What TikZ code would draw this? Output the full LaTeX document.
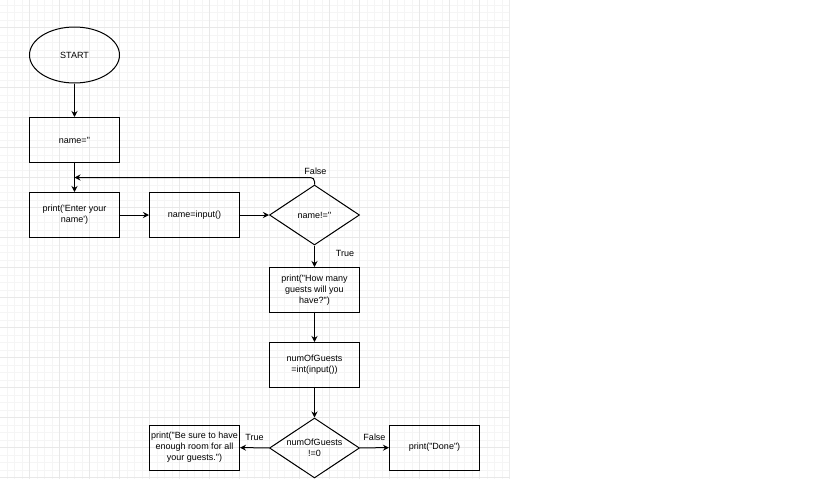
\documentclass[tikz,border=0pt]{standalone}
\usepackage{fontspec}
\setmainfont{Liberation Sans}[Ligatures=TeXOff]
\usetikzlibrary{shapes.geometric,arrows.meta}

\begin{document}
\begin{tikzpicture}[x=0.75pt,y=-0.75pt,
		every node/.style={font=\fontsize{6.75pt}{8.25pt}\selectfont},
		box/.style={draw,rectangle,minimum width=67.5pt,minimum height=33.75pt,align=center,inner sep=1pt,line width=0.75pt},
		dec/.style={draw,diamond,aspect=1.5,minimum width=67.5pt,minimum height=45pt,inner sep=0pt,align=center,line width=0.75pt},
		term/.style={draw,ellipse,minimum width=67.5pt,minimum height=42pt,line width=0.75pt},
		flow/.style={-{Stealth[length=4.5pt,width=4.5pt,inset=1.5pt]},line width=0.75pt},
		lbl/.style={inner sep=0pt},
		minorline/.style={color=black!4,line width=0.6pt},
		majorline/.style={color=black!9,line width=0.75pt}]
				\useasboundingbox (0,0) rectangle (819,479);
				% grid
				\begin{scope}
					\clip (0,0) rectangle (509.5,479);
					\foreach \i in {0,...,68} \draw[minorline] ({-0.5+7.5*\i},0) -- ++(0,479);
					\foreach \i in {0,...,65} \draw[minorline] (0,{-2.5+7.5*\i}) -- ++(509.5,0);
					\foreach \i in {0,...,17} \draw[majorline] ({-0.5+30*\i},0) -- ++(0,479);
					\foreach \i in {0,...,16} \draw[majorline] (0,{-2.5+30*\i}) -- ++(509.5,0);
				\end{scope}
				\node[term] (start) at (74.5,55) {START};
				\node[box] (init) at (74.5,140) {name=''};
				\node[box] (ask) at (74.5,215) {print('Enter your\\name')};
				\node[box] (read) at (194.5,215) {name=input()};
				\node[dec] (check) at (314.5,215) {name!=''};
				\node[box] (howmany) at (314.5,290) {print("How many\\guests will you\\have?")};
				\node[box] (guests) at (314.5,365) {numOfGuests\\=int(input())};
				\node[dec] (nonzero) at (314.5,448) {numOfGuests\\!=0};
				\node[box] (room) at (194.5,447.5) {print("Be sure to have\\enough room for all\\your guests.")};
				\node[box] (done) at (434.5,447.5) {print("Done")};
				\coordinate (back) at (74.5,177.5);
				\node[lbl] (lfalse) at (315.5,171) {False};
				\node[lbl] (ltrue) at (345,253) {True};
				\node[lbl] (ltrue2) at (254.5,437) {True};
				\node[lbl] (lfalse2) at (374.5,437) {False};
				\draw[flow] (start) -- (init);
				\draw[flow] (init) -- (ask);
				\draw[flow] (ask) -- (read);
				\draw[flow] (read) -- (check);
				\draw[flow,rounded corners=3pt] (check.north) |- (back);
				\draw[flow] (check) -- (howmany);
				\draw[flow] (howmany) -- (guests);
				\draw[flow] (guests) -- (nonzero);
				\draw[flow] (nonzero) -- (room);
				\draw[flow] (nonzero) -- (done);
			\end{tikzpicture}
\end{document}
